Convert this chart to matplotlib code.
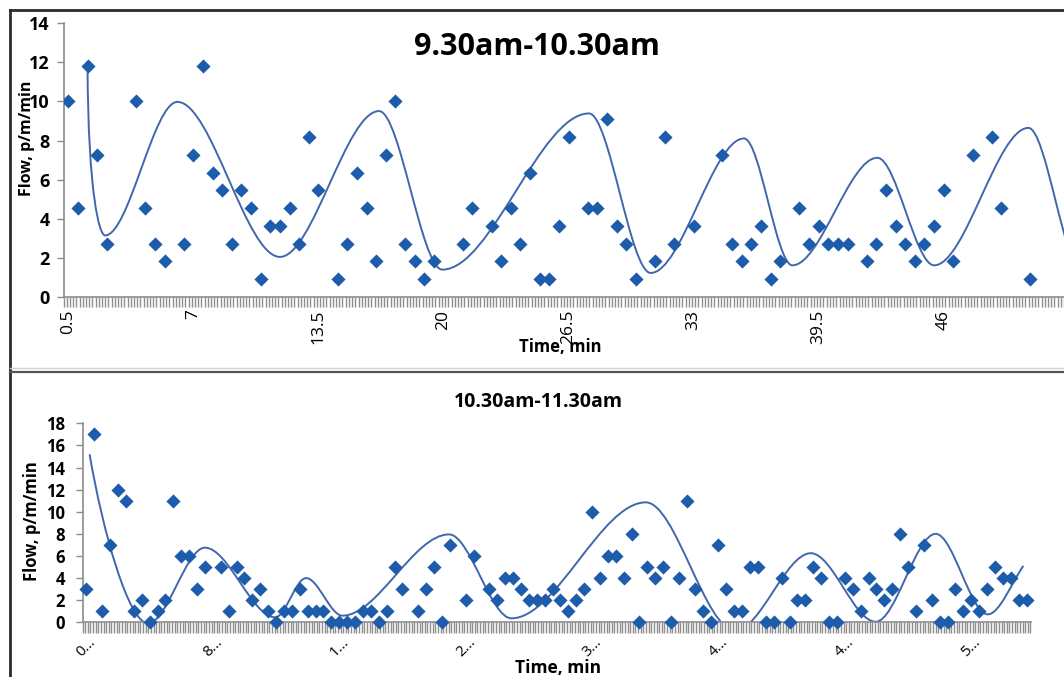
import numpy as np
import matplotlib
matplotlib.use("Agg")
import matplotlib.pyplot as plt
from matplotlib.path import Path
from matplotlib.patches import PathPatch
from matplotlib.lines import Line2D

plt.rcParams["font.family"] = ["Open Sans", "DejaVu Sans"]

# 9.30am-10.30am : flow readings every half minute
am1_time = [0.5, 1.0, 1.5, 2.0, 2.5, 4.0, 4.5, 5.0, 5.5, 6.5, 7.0, 7.5, 8.0, 8.5,
            9.0, 9.5, 10.0, 10.5, 11.0, 11.5, 12.0, 12.5, 13.0, 13.5, 14.5, 15.0,
            15.5, 16.0, 16.5, 17.0, 17.5, 18.0, 18.5, 19.0, 19.5, 21.0, 21.5, 22.5,
            23.0, 23.5, 24.0, 24.5, 25.0, 25.5, 26.0, 26.5, 27.5, 28.0, 28.5, 29.0,
            29.5, 30.0, 31.0, 31.5, 32.0, 33.0, 34.5, 35.0, 35.5, 36.0, 36.5, 37.0,
            37.5, 38.5, 39.0, 39.5, 40.0, 40.5, 41.0, 42.0, 42.5, 43.0, 43.5, 44.0,
            44.5, 45.0, 45.5, 46.0, 46.5, 47.5, 48.5, 49.0, 50.5]
am1_flow = [10.0, 4.55, 11.82, 7.27, 2.73, 10.0, 4.55, 2.73, 1.82, 2.73, 7.27, 11.82,
            6.36, 5.45, 2.73, 5.45, 4.55, 0.91, 3.64, 3.64, 4.55, 2.73, 8.18, 5.45,
            0.91, 2.73, 6.36, 4.55, 1.82, 7.27, 10.0, 2.73, 1.82, 0.91, 1.82, 2.73,
            4.55, 3.64, 1.82, 4.55, 2.73, 6.36, 0.91, 0.91, 3.64, 8.18, 4.55, 4.55,
            9.09, 3.64, 2.73, 0.91, 1.82, 8.18, 2.73, 3.64, 7.27, 2.73, 1.82, 2.73,
            3.64, 0.91, 1.82, 4.55, 2.73, 3.64, 2.73, 2.73, 2.73, 1.82, 2.73, 5.45,
            3.64, 2.73, 1.82, 2.73, 3.64, 5.45, 1.82, 7.27, 8.18, 4.55, 0.91]
# fitted trend: turning points
am1_fit_time = [1.5, 2.41, 6.17, 11.5, 16.65, 19.94, 27.56, 30.77, 35.62, 38.13,
                42.55, 45.5, 50.4, 53.2]
am1_fit_flow = [11.82, 3.15, 9.98, 2.05, 9.51, 1.40, 9.39, 1.23, 8.11, 1.62,
                7.12, 1.62, 8.65, 1.3]
am1_ticks = [0.5, 7, 13.5, 20, 26.5, 33, 39.5, 46]

# 10.30am-11.30am
am2_time = [0.5, 1.0, 1.5, 2.0, 2.5, 3.0, 3.5, 4.0, 4.5, 5.0, 5.5, 6.0, 6.5, 7.0,
            7.5, 8.0, 9.0, 9.5, 10.0, 10.5, 11.0, 11.5, 12.0, 12.5, 13.0, 13.5,
            14.0, 14.5, 15.0, 15.5, 16.0, 16.5, 17.0, 17.5, 18.0, 18.5, 19.0, 19.5,
            20.0, 20.5, 21.5, 22.0, 22.5, 23.0, 23.5, 24.5, 25.0, 26.0, 26.5, 27.0,
            27.5, 28.0, 28.5, 29.0, 29.5, 30.0, 30.5, 31.0, 31.5, 32.0, 32.5, 33.0,
            33.5, 34.0, 34.5, 35.0, 35.5, 36.0, 36.5, 37.0, 37.5, 38.0, 38.5, 39.0,
            39.5, 40.0, 40.5, 41.0, 41.5, 42.0, 42.5, 43.0, 43.5, 44.0, 44.5, 45.0,
            45.5, 46.0, 46.5, 47.0, 47.5, 48.0, 48.5, 49.0, 49.5, 50.0, 50.5, 51.0,
            51.5, 52.0, 52.5, 53.0, 53.5, 54.0, 54.5, 55.0, 55.5, 56.0, 56.5, 57.0,
            57.5, 58.0, 58.5, 59.0, 59.5, 60.0]
am2_flow = [3, 17, 1, 7, 12, 11, 1, 2, 0, 1, 2, 11, 6, 6,
            3, 5, 5, 1, 5, 4, 2, 3, 1, 0, 1, 1,
            3, 1, 1, 1, 0, 0, 0, 0, 1, 1, 0, 1,
            5, 3, 1, 3, 5, 0, 7, 2, 6, 3, 2, 4,
            4, 3, 2, 2, 2, 3, 2, 1, 2, 3, 10, 4,
            6, 6, 4, 8, 0, 5, 4, 5, 0, 4, 11, 3,
            1, 0, 7, 3, 1, 1, 5, 5, 0, 0, 4, 0,
            2, 2, 5, 4, 0, 0, 4, 3, 1, 4, 3, 2,
            3, 8, 5, 1, 7, 2, 0, 0, 3, 1, 2, 1,
            3, 5, 4, 4, 2, 2]
am2_fit_time = [0.7, 4.4, 8.0, 12.45, 14.4, 16.7, 23.45, 27.4, 35.9, 41.55,
                46.35, 50.45, 54.25, 57.55, 59.8]
am2_fit_flow = [15.2, -0.1, 6.75, 0.45, 4.0, 0.6, 7.95, 0.36, 10.85, -0.75,
                6.25, 0.05, 8.0, 0.72, 5.1]
am2_ticks = [0.5, 8.5, 16.5, 24.5, 32.5, 40.5, 48.5, 56.5]

W, H = 1064, 677
MARK = "#1d5bab"
FIT = "#4266ad"
AXC = "#8c8c8c"


def fx(px):
    return px / W


def fy(py):
    return 1 - py / H


def smooth_path(ts, vs, start=None, end=None):
    # cubic bezier through turning points, flat at each knot
    verts = [(ts[0], vs[0])]
    codes = [Path.MOVETO]
    n = len(ts) - 1
    for k in range(n):
        t0, v0, t1, v1 = ts[k], vs[k], ts[k + 1], vs[k + 1]
        dt = t1 - t0
        c1 = (t0 + dt / 3, v0)
        c2 = (t1 - dt / 3, v1)
        if k == 0 and start is not None:
            c1 = (t0 + start[0] * dt, v0 + start[1] * (v1 - v0))
        if k == n - 1 and end is not None:
            c2 = (t1 - end[0] * dt, v1 - end[1] * (v1 - v0))
        verts += [c1, c2, (t1, v1)]
        codes += [Path.CURVE4] * 3
    return Path(verts, codes)


def style_axes(ax, ymax, xmax):
    for s in ("top", "right"):
        ax.spines[s].set_visible(False)
    for s in ("left", "bottom"):
        ax.spines[s].set_color(AXC)
        ax.spines[s].set_linewidth(1.2)
    ax.set_ylim(0, ymax)
    ax.set_yticks(np.arange(0, ymax + 1, 2))
    # dense tick band under the category axis
    ax.set_xticks(np.arange(0.25, xmax, 0.5 / 3), minor=True)
    ax.tick_params(axis="x", which="minor", length=7, width=1.0, color="#8e8e8e")
    ax.tick_params(axis="x", which="major", length=0)
    ax.tick_params(axis="y", which="major", length=5, color=AXC, width=1)
    ax.patch.set_alpha(0)


fig = plt.figure(figsize=(W / 100, H / 100), dpi=100)

# ---- upper chart
ax1 = fig.add_axes([fx(63.5), fy(297), fx(1064) - fx(63.5), (297 - 23.3) / H])
x1max = 0.25 + (1064 - 63.5) / 19.24
ax1.set_xlim(0.25, x1max)
ax1.scatter(am1_time, am1_flow, marker="D", s=52, color=MARK, linewidths=0, zorder=3)
ax1.add_patch(PathPatch(smooth_path(am1_fit_time, am1_fit_flow, start=(0.03, 0.75)),
                        facecolor="none", edgecolor=FIT, lw=1.4, zorder=2))
ax1.set_xticks(am1_ticks)
ax1.set_xticklabels([f"{v:g}" for v in am1_ticks], rotation=90, fontsize=12.5)
ax1.tick_params(axis="x", which="major", pad=9)
style_axes(ax1, 14, x1max)
ax1.tick_params(axis="y", labelsize=13, pad=5)
for lab in ax1.get_yticklabels():
    lab.set_fontweight("bold")

fig.text(fx(537), fy(47), "9.30am-10.30am", fontsize=22, fontweight="bold",
         ha="center", va="center")
fig.text(fx(27), fy(138.5), "Flow, p/m/min", fontsize=11.5, fontweight="bold",
         rotation=90, ha="center", va="center")
fig.text(fx(560), fy(347), "Time, min", fontsize=12, fontweight="bold",
         ha="center", va="center")

# ---- lower chart
ax2 = fig.add_axes([fx(82.5), fy(622.3), 948 / W, (622.3 - 423.3) / H])
ax2.set_xlim(0.25, 60.25)
ax2.scatter(am2_time, am2_flow, marker="D", s=52, color=MARK, linewidths=0,
            zorder=3, clip_on=False)
ax2.add_patch(PathPatch(smooth_path(am2_fit_time, am2_fit_flow, start=(0.22, 0.45),
                                    end=(0.3, 0.3)),
                        facecolor="none", edgecolor=FIT, lw=1.4, zorder=2))
ax2.set_xticks(am2_ticks)
ax2.set_xticklabels([f"{v:g}"[0] + "\u2026" for v in am2_ticks], rotation=45,
                    fontsize=11, ha="center")
ax2.tick_params(axis="x", which="major", pad=9)
style_axes(ax2, 18, 60.3)
ax2.tick_params(axis="x", which="minor", length=8)
ax2.tick_params(axis="y", labelsize=12, pad=7.5)
for lab in ax2.get_yticklabels():
    lab.set_fontweight("bold")

fig.text(fx(538), fy(402), "10.30am-11.30am", fontsize=14, fontweight="bold",
         ha="center", va="center")
fig.text(fx(31.7), fy(521.5), "Flow, p/m/min", fontsize=12, fontweight="bold",
         rotation=90, ha="center", va="center")
fig.text(fx(558), fy(668), "Time, min", fontsize=12.5, fontweight="bold",
         ha="center", va="center")

# ---- frame lines around the two panels
frame = dict(transform=fig.transFigure, color="#2b2b2b", lw=2)
fig.add_artist(Line2D([fx(10), 1], [fy(10), fy(10)], **frame))
fig.add_artist(Line2D([fx(10), fx(10)], [fy(10), 0], **frame))
fig.add_artist(Line2D([fx(10), 1], [fy(371.5), fy(371.5)], transform=fig.transFigure,
                      color="#555555", lw=1.6))
fig.add_artist(Line2D([fx(10), 1], [fy(368), fy(368)], transform=fig.transFigure,
                      color="#d0d0d0", lw=1))

fig.savefig("out.png", dpi=100)
